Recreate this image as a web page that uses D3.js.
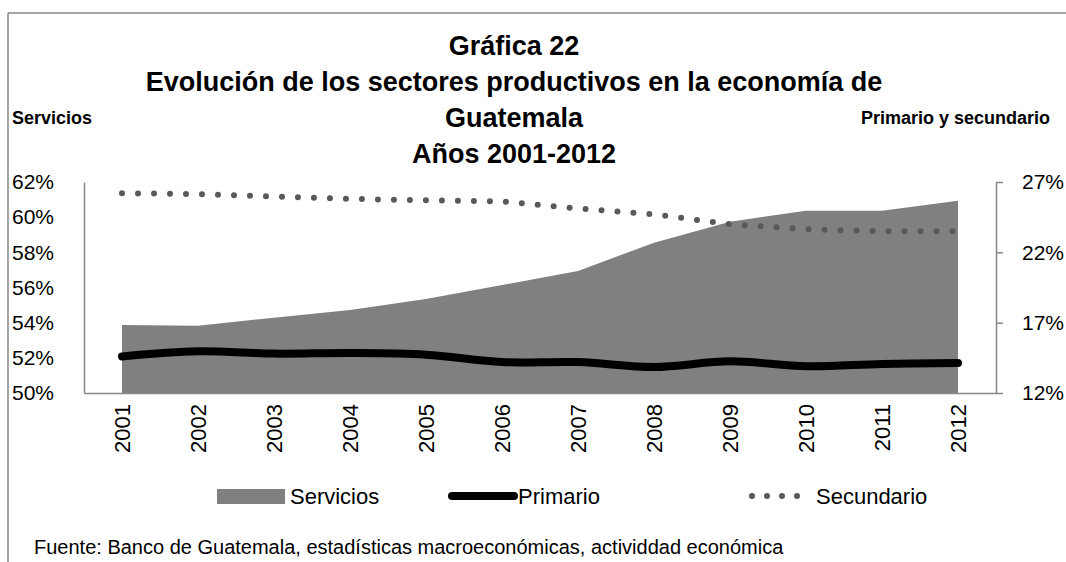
<!DOCTYPE html>
<html>
<head>
<meta charset="utf-8">
<script src="https://cdn.jsdelivr.net/npm/d3@7"></script>
<style>
  body { margin: 0; background: #fff; }
  svg { font-family: 'Liberation Sans', Arial, sans-serif; }
</style>
</head>
<body>
<div id="chart"></div>
<script>
const years = ['2001', '2002', '2003', '2004', '2005', '2006', '2007', '2008', '2009', '2010', '2011', '2012']
const servicios = [53.87, 53.83, 54.28, 54.72, 55.35, 56.14, 56.94, 58.55, 59.74, 60.37, 60.37, 60.94]
const primario = [14.6, 14.96, 14.8, 14.84, 14.72, 14.2, 14.2, 13.85, 14.25, 13.9, 14.06, 14.13]
const secundario = [26.2, 26.14, 25.97, 25.8, 25.7, 25.62, 25.12, 24.7, 24.0, 23.65, 23.49, 23.49]
const leftTicks = [50, 52, 54, 56, 58, 60, 62]
const rightTicks = [12, 17, 22, 27]
const titleLines = ['Gráfica 22', 'Evolución de los sectores productivos en la economía de', 'Guatemala', 'Años 2001-2012']

const width = 1066
const height = 562
const plot = { left: 84, right: 996, top: 182, bottom: 393 }
const fontFam = "'Liberation Sans', Arial, sans-serif"

const svg = d3
  .select('#chart')
  .append('svg')
  .attr('width', width)
  .attr('height', height)

// frame (top and left edges only visible)
svg.append('line').attr('x1', 8).attr('x2', width).attr('y1', 13).attr('y2', 13)
  .attr('stroke', '#878787').attr('stroke-width', 1.5)
svg.append('line').attr('x1', 8).attr('x2', 8).attr('y1', 13).attr('y2', height)
  .attr('stroke', '#878787').attr('stroke-width', 1.5)

const x = d3.scaleBand().domain(years).range([plot.left, plot.right]).padding(0)
const cx = d => x(d) + x.bandwidth() / 2
const yL = d3.scaleLinear().domain([50, 62]).range([plot.bottom, plot.top])
const yR = d3.scaleLinear().domain([12, 27]).range([plot.bottom, plot.top])

// area servicios
const area = d3.area()
  .x((d, i) => cx(years[i]))
  .y0(yL(50))
  .y1(d => yL(d))
svg.append('path').datum(servicios).attr('d', area).attr('fill', '#808080')

// secundario dotted
const lineSec = d3.line().x((d, i) => cx(years[i])).y(d => yR(d))
svg.append('path').datum(secundario).attr('d', lineSec)
  .attr('fill', 'none').attr('stroke', '#595959').attr('stroke-width', 6)
  .attr('stroke-linecap', 'round').attr('stroke-dasharray', '0 16')

// primario thick smooth
const linePri = d3.line().x((d, i) => cx(years[i])).y(d => yR(d)).curve(d3.curveCatmullRom)
svg.append('path').datum(primario).attr('d', linePri)
  .attr('fill', 'none').attr('stroke', '#000').attr('stroke-width', 8)
  .attr('stroke-linecap', 'round')

// axes
const axisColor = '#868686'
const bottomAxis = svg.append('g').attr('transform', `translate(0,${plot.bottom})`)
  .call(d3.axisBottom(x).tickSize(0).tickPadding(12))
bottomAxis.select('.domain').attr('stroke', axisColor).attr('stroke-width', 1.5)
bottomAxis.selectAll('text')
  .attr('transform', 'rotate(-90)')
  .attr('text-anchor', 'end')
  .attr('x', -11).attr('y', 0).attr('dy', '0.35em')
  .style('font-size', '22px').attr('fill', '#000')
  .style('font-family', fontFam)

const leftAxis = svg.append('g').attr('transform', `translate(${plot.left},0)`)
  .call(d3.axisLeft(yL).tickValues(leftTicks).tickSize(0).tickFormat(d => d + '%'))
leftAxis.select('.domain').attr('stroke', axisColor).attr('stroke-width', 1.5)
leftAxis.selectAll('text')
  .attr('text-anchor', 'start').attr('x', 12 - plot.left)
  .style('font-size', '21px').attr('fill', '#000')
  .style('font-family', fontFam)

const rightAxis = svg.append('g').attr('transform', `translate(${plot.right},0)`)
  .call(d3.axisRight(yR).tickValues(rightTicks).tickSize(7).tickSizeOuter(0).tickPadding(19).tickFormat(d => d + '%'))
rightAxis.select('.domain').attr('stroke', axisColor).attr('stroke-width', 1.5)
rightAxis.selectAll('.tick line').attr('stroke', axisColor).attr('stroke-width', 1.5)
rightAxis.selectAll('text')
  .style('font-size', '21px').attr('fill', '#000')
  .style('font-family', fontFam)

// titles
svg.selectAll('.title')
  .data(titleLines)
  .enter()
  .append('text')
  .attr('class', 'title')
  .attr('x', 514)
  .attr('y', (d, i) => 55 + i * 36)
  .attr('text-anchor', 'middle')
  .style('font-size', '27px')
  .style('font-weight', 'bold')
  .text(d => d)

svg.append('text').attr('x', 12).attr('y', 124)
  .style('font-size', '18px').style('font-weight', 'bold').text('Servicios')
svg.append('text').attr('x', 1050).attr('y', 124).attr('text-anchor', 'end')
  .style('font-size', '18px').style('font-weight', 'bold').text('Primario y secundario')

// legend
const leg = svg.append('g')
leg.append('rect').attr('x', 217).attr('y', 489).attr('width', 68).attr('height', 15).attr('fill', '#808080')
leg.append('text').attr('x', 290).attr('y', 504).style('font-size', '22px').text('Servicios')
leg.append('line').attr('x1', 452).attr('x2', 514).attr('y1', 496).attr('y2', 496)
  .attr('stroke', '#000').attr('stroke-width', 8).attr('stroke-linecap', 'round')
leg.append('text').attr('x', 518).attr('y', 504).style('font-size', '22px').text('Primario')
leg.append('line').attr('x1', 752).attr('x2', 812).attr('y1', 496).attr('y2', 496)
  .attr('stroke', '#595959').attr('stroke-width', 6).attr('stroke-linecap', 'round')
  .attr('stroke-dasharray', '0 15')
leg.append('text').attr('x', 816).attr('y', 504).style('font-size', '22px').text('Secundario')

// source note
svg.append('text').attr('x', 34).attr('y', 554).style('font-size', '20px')
  .text('Fuente: Banco de Guatemala, estadísticas macroeconómicas, actividdad económica')
</script>
</body>
</html>
